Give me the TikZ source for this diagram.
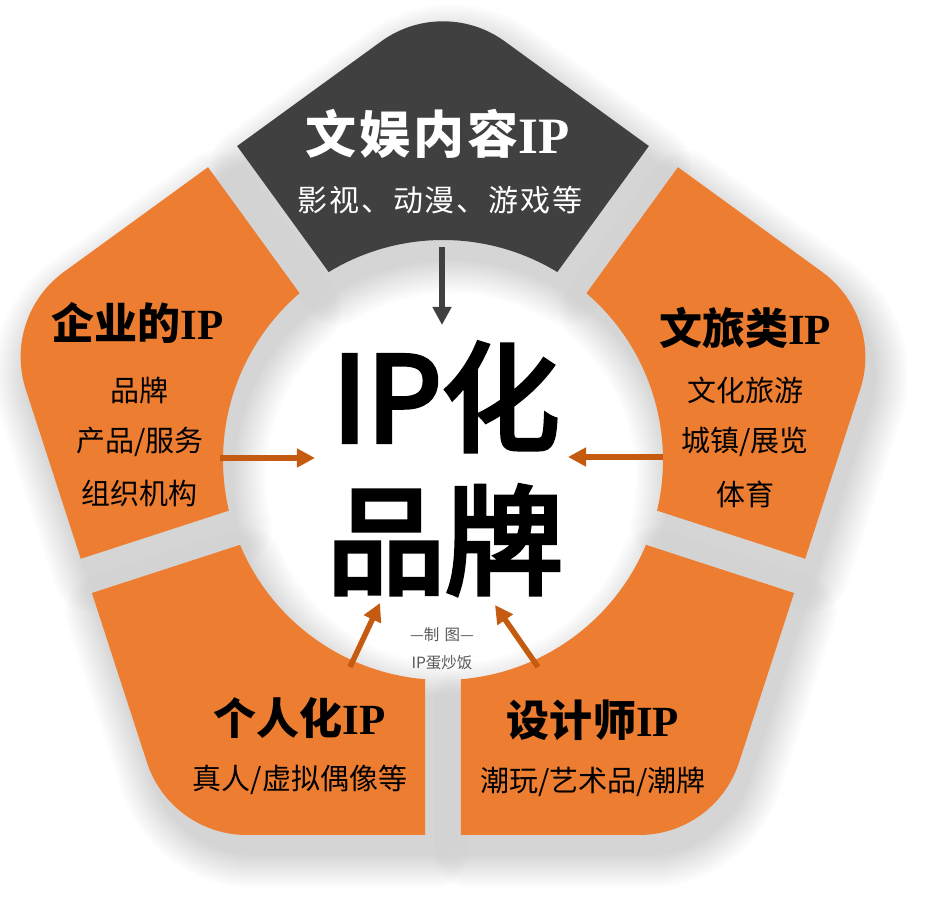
\documentclass[tikz,border=0pt]{standalone}
\usepackage{fontspec}
\usetikzlibrary{arrows.meta}
\newfontfamily\cjk{Noto Sans CJK SC}
\newfontfamily\cjkls{Noto Sans CJK SC}[LetterSpace=6]
\newfontfamily\cjkbig{Noto Sans CJK SC}[FakeBold=4]
\newfontfamily\ipserif{Liberation Serif}
\definecolor{segorange}{HTML}{ED7D31}
\definecolor{seggray}{HTML}{404040}
\definecolor{arroworange}{HTML}{C55A11}
\definecolor{creditgray}{HTML}{595959}
% segment path: #1 = angle of the pentagon vertex it contains
\newcommand\segpath[1]{({#1-36+4.693}:220bp) -- ({#1-36+2.748}:375.43bp) -- ([shift={(#1:333.7bp)}]{#1-36}:105bp) arc[start angle={#1-36}, end angle={#1+36}, radius=105bp] -- ({#1+36-2.748}:375.43bp) -- ({#1+36-4.693}:220bp) arc[start angle={#1+36-4.693}, end angle={#1-36+4.693}, radius=220bp] -- cycle}
\tikzset{
  segtitle/.style={font=\cjk\bfseries\fontsize{43bp}{50bp}\selectfont, text=black},
  segbody/.style={font=\cjk\fontsize{29bp}{34bp}\selectfont, text=black},
  bigtext/.style={font=\cjkbig\fontsize{118bp}{118bp}\selectfont, text=black},
  credit/.style={font=\cjk\fontsize{15.5bp}{18bp}\selectfont, text=creditgray},
  orangearrow/.style={draw=arroworange, line width=5.5bp, -{Triangle[length=18bp,width=18bp]}},
  grayarrow/.style={draw=seggray, line width=6.5bp, -{Triangle[length=18bp,width=18bp]}}
}
\begin{document}
\begin{tikzpicture}[x=1bp,y=1bp]
\useasboundingbox[fill=white] (-443,-444) rectangle (493,460);
% soft shadows
\foreach \th in {90,162,234,306,18}{
  \foreach \k in {1,...,14}{
    \begin{scope}[transparency group, opacity=0.013, shift={(8bp,-18bp)}]
      \filldraw[black, line width=\k*5bp, line join=round] \segpath{\th};
    \end{scope}
  }
}
% segments
\fill[seggray] \segpath{90};
\fill[segorange] \segpath{162};
\fill[segorange] \segpath{234};
\fill[segorange] \segpath{306};
\fill[segorange] \segpath{18};
% top segment texts
\node[font=\cjkls\bfseries\fontsize{51bp}{56bp}\selectfont, text=white] (t0) at (-5.5,326.5) {文娱内容{\ipserif\bfseries IP}};
\node[font=\cjkls\fontsize{30bp}{34bp}\selectfont, text=white] (t0b) at (-3,260) {影视、动漫、游戏等};
% left
\node[segtitle] (t1) at (-305,137) {企业的{\ipserif\bfseries IP}};
\node[segbody] (t1a) at (-303,70) {品牌};
\node[segbody] (t1b) at (-303,18) {产品/服务};
\node[segbody] (t1c) at (-303,-33) {组织机构};
% right
\node[segtitle] (t4) at (302,132) {文旅类{\ipserif\bfseries IP}};
\node[segbody] (t4a) at (302,70) {文化旅游};
\node[segbody] (t4b) at (302,18) {城镇/展览};
\node[segbody] (t4c) at (302,-34) {体育};
% bottom left
\node[segtitle] (t2) at (-143,-258) {个人化{\ipserif\bfseries IP}};
\node[segbody] (t2a) at (-143,-320) {真人/虚拟偶像等};
% bottom right
\node[segtitle] (t3) at (150,-260) {设计师{\ipserif\bfseries IP}};
\node[segbody] (t3a) at (150,-322) {潮玩/艺术品/潮牌};
% centre
\node[bigtext] (c1) at (3,63) {IP化};
\node[bigtext] (c2) at (2,-80) {品牌};
\node[credit] (cr1) at (-1,-175) {—制\,\,图—};
\node[credit] (cr2) at (-1,-203) {IP蛋炒饭};
% arrows
\coordinate (a0s) at (-1,213);  \coordinate (a0e) at (-1,135);
\coordinate (a1s) at (-223,2);  \coordinate (a1e) at (-128,2);
\coordinate (a4s) at (220,3);   \coordinate (a4e) at (125,3);
\coordinate (a2s) at (-93,-207);\coordinate (a2e) at (-63,-143);
\coordinate (a3s) at (95,-207); \coordinate (a3e) at (52,-145);
\draw[grayarrow] (a0s) -- (a0e);
\draw[orangearrow] (a1s) -- (a1e);
\draw[orangearrow] (a4s) -- (a4e);
\draw[orangearrow] (a2s) -- (a2e);
\draw[orangearrow] (a3s) -- (a3e);
\end{tikzpicture}
\end{document}
